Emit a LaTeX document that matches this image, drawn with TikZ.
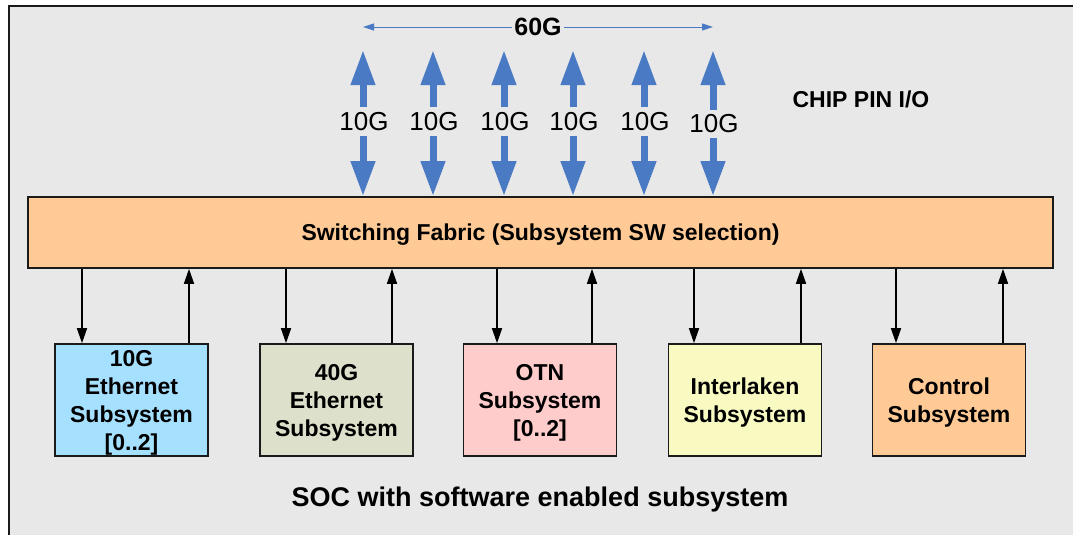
\documentclass[tikz,border=0pt]{standalone}
\usepackage{fontspec}
\setmainfont{Liberation Sans}
\usetikzlibrary{arrows.meta}
\definecolor{bg}{HTML}{E8E8E8}
\definecolor{peach}{HTML}{FFCA96}
\definecolor{sky}{HTML}{A6E0FF}
\definecolor{sage}{HTML}{DDE0CA}
\definecolor{rose}{HTML}{FFCCCC}
\definecolor{lemon}{HTML}{F8FAC2}
\definecolor{pinblue}{HTML}{4A7AC4}
\definecolor{edge}{HTML}{1A1A1A}
\begin{document}
\begin{tikzpicture}[x=1pt,y=-1pt,
  sub/.style={draw=edge, line width=1.6pt, minimum width=153pt, minimum height=112pt,
    align=center, font=\bfseries\fontsize{23}{28}\selectfont, inner sep=0pt, text depth=0pt},
  link/.style={draw=black, line width=1.5pt, -{Triangle[length=15pt,width=10pt]}},
  pin/.style={draw=pinblue, line width=7pt, -{Triangle[length=35pt,width=23pt]}},
  thinarr/.style={draw=pinblue, line width=0.8pt, -{Triangle[length=11pt,width=7pt]}},
  gl/.style={font=\fontsize{26}{26}\selectfont, inner xsep=1pt, inner ysep=5pt}]
\useasboundingbox (0,0) rectangle (1073,535);
\clip (0,0) rectangle (1073,535);
\draw[line width=2pt, draw=edge, fill=bg] (9,6) rectangle (1100,560);

% switching fabric
\node[draw=edge, line width=1.6pt, fill=peach, minimum width=1025pt, minimum height=71pt,
  font=\bfseries\fontsize{23}{28}\selectfont, text depth=0pt] (fab) at (540.5,232.5)
  {Switching Fabric (Subsystem SW selection)};

% 60G
\node[font=\bfseries\fontsize{25}{25}\selectfont, inner xsep=2pt, inner ysep=0pt] (g60) at (538,27) {60G};
\coordinate (L60) at (363,27);
\coordinate (R60) at (713,27);
\draw[thinarr] (g60.west) -- (L60);
\draw[thinarr] (g60.east) -- (R60);

% chip pin I/O
\node[font=\bfseries\fontsize{23}{23}\selectfont] (chip) at (861,99) {CHIP PIN I/O};

% 10G pins
\foreach \x/\y [count=\i] in {363/121.5,433/121.5,504/121.5,573/121.5,644/121.5,713/124}{
  \node[gl] (g\i) at (\x+1,\y) {10G};
  \coordinate (t\i) at (\x,50);
  \draw[pin] (\x,0 |- g\i.north) -- (t\i);
  \draw[pin] (\x,0 |- g\i.south) -- (\x,0 |- fab.north);
}

% subsystems
\node[sub, fill=sky]   (b1) at (131.5,400) {10G\\Ethernet\\Subsystem\\{}[0..2]};
\node[sub, fill=sage]  (b2) at (336.5,400) {40G\\Ethernet\\Subsystem};
\node[sub, fill=rose]  (b3) at (540,400)   {OTN\\Subsystem\\{}[0..2]};
\node[sub, fill=lemon] (b4) at (745,400)   {Interlaken\\Subsystem};
\node[sub, fill=peach] (b5) at (949,400)   {Control\\Subsystem};

% links
\foreach \d/\u [count=\i] in {82/189,286/392,497/592,694/801,896/1003}{
  \coordinate (d\i) at (\d,0);
  \coordinate (u\i) at (\u,0);
  \draw[link] (d\i |- fab.south) -- (d\i |- b\i.north);
  \draw[link] (u\i |- b\i.north) -- (u\i |- fab.south);
}

% caption
\node[font=\bfseries\fontsize{27}{27}\selectfont, text depth=0pt] (soc) at (540,497) {SOC with software enabled subsystem};
\end{tikzpicture}
\end{document}
